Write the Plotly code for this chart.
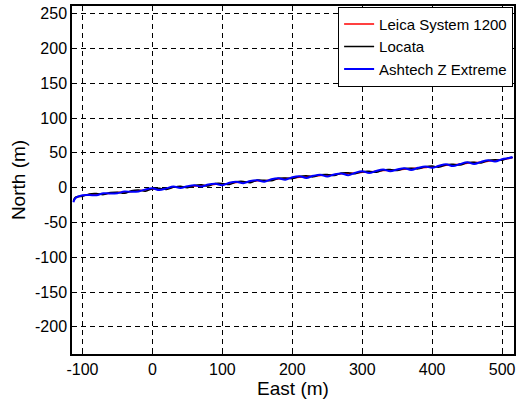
import plotly.graph_objects as go

east = [-113, -110, -100, -90, -80, -70, -60, -50, -40, -30, -20, -10,
        0, 10, 20, 30, 40, 50, 60, 70, 80, 90,
        100, 110, 120, 130, 140, 150, 160, 170, 180, 190,
        200, 210, 220, 230, 240, 250, 260, 270, 280, 290,
        300, 310, 320, 330, 340, 350, 360, 370, 380, 390,
        400, 410, 420, 430, 440, 450, 460, 470, 480, 490,
        500, 510, 515]

north_leica = [-20, -14.5, -11.5, -10, -9.5, -9, -8, -7, -6.5, -5.5, -4.5, -3.5,
               -2, -2, -1.5, 0.5, 1, 1, 2.5, 3, 3.5, 5,
               5, 6, 7.5, 8, 8.5, 10, 10, 11, 12.5, 13,
               14, 15, 16, 16.5, 17.5, 18, 18.5, 20, 20.5, 21,
               22, 22.5, 23.5, 24.5, 25, 25.5, 26.5, 27.5, 28, 29,
               30, 30.5, 32, 33, 33.5, 35, 36, 36.5, 38, 39,
               40.5, 42, 43.5]

north_locata = [-19, -13.5, -12.5, -9, -8.5, -10, -7, -6.5, -8, -4.5, -3.5, -5,
                -1.5, -1, -2.5, 0.5, 2, 0, 3, 4, 2.5, 6,
                6, 4.5, 8.5, 9, 7, 11, 10.5, 10, 13.5, 14,
                13, 16, 17, 15.5, 18.5, 19, 17.5, 21, 21.5, 20,
                23, 23.5, 22, 25.5, 26, 24.5, 27.5, 28, 27, 30,
                31, 29.5, 33, 33.5, 32.5, 36, 36.5, 35.5, 39, 40,
                39.5, 43, 43]

north_ashtech = [-21, -15, -11, -10.5, -11, -8, -8.5, -8, -5.5, -6, -5.5, -2.5,
                 -1, -3.5, -1, 1.5, -0.5, 2, 3.5, 1.5, 4.5, 5.5,
                 3.5, 7, 8.5, 6.5, 9.5, 10.5, 8.5, 12, 13.5, 11.5,
                 15, 16.5, 14, 17, 18.5, 16, 19, 20.5, 18, 21.5,
                 23.5, 21, 24, 26, 23.5, 26, 28, 25.5, 28.5, 30.5,
                 28.5, 31.5, 33.5, 31, 34, 36.5, 34, 37, 39.5, 37.5,
                 41, 42.5, 44]

x_ticks = [-100, 0, 100, 200, 300, 400, 500]
y_ticks = [-200, -150, -100, -50, 0, 50, 100, 150, 200, 250]

fig = go.Figure()
fig.add_trace(go.Scatter(x=east, y=north_leica, mode="lines", name="Leica System 1200",
                         line=dict(color="#ff0000", width=1.5, shape="spline")))
fig.add_trace(go.Scatter(x=east, y=north_locata, mode="lines", name="Locata",
                         line=dict(color="#000000", width=1.5, shape="spline")))
fig.add_trace(go.Scatter(x=east, y=north_ashtech, mode="lines", name="Ashtech Z Extreme",
                         line=dict(color="#0000ff", width=2, shape="spline")))

font_family = "Liberation Sans, Arial, sans-serif"
axis_common = dict(
    showgrid=True, gridcolor="#000000", gridwidth=1, griddash="5px,4px",
    zeroline=False, showline=True, linecolor="#000000", linewidth=1.5,
    mirror="ticks", ticks="inside", ticklen=5, tickcolor="#000000",
    tickfont=dict(family=font_family, size=16, color="#000000"),
)

fig.update_xaxes(range=[-115, 517], tickvals=x_ticks, ticktext=[str(v) for v in x_ticks],
                 title=dict(text="East (m)", font=dict(family=font_family, size=19, color="#000000"),
                            standoff=2),
                 **axis_common)
fig.update_yaxes(range=[-239, 261], tickvals=y_ticks, ticktext=[str(v) for v in y_ticks],
                 title=dict(text="North (m)", font=dict(family=font_family, size=19, color="#000000"),
                            standoff=4),
                 **axis_common)

fig.update_layout(
    width=529, height=403,
    margin=dict(l=72, r=15, t=6, b=49, autoexpand=False),
    paper_bgcolor="#ffffff", plot_bgcolor="#ffffff",
    font=dict(family=font_family, color="#000000"),
    showlegend=True,
    legend=dict(x=0.998, y=0.998, xanchor="right", yanchor="top",
                bgcolor="#ffffff", bordercolor="#000000", borderwidth=1,
                font=dict(family=font_family, size=15, color="#000000"),
                itemwidth=30, tracegroupgap=0),
)

fig.write_html("out.html", config={"displayModeBar": False},
               post_script="document.body.style.margin='0';document.body.style.padding='0';")
